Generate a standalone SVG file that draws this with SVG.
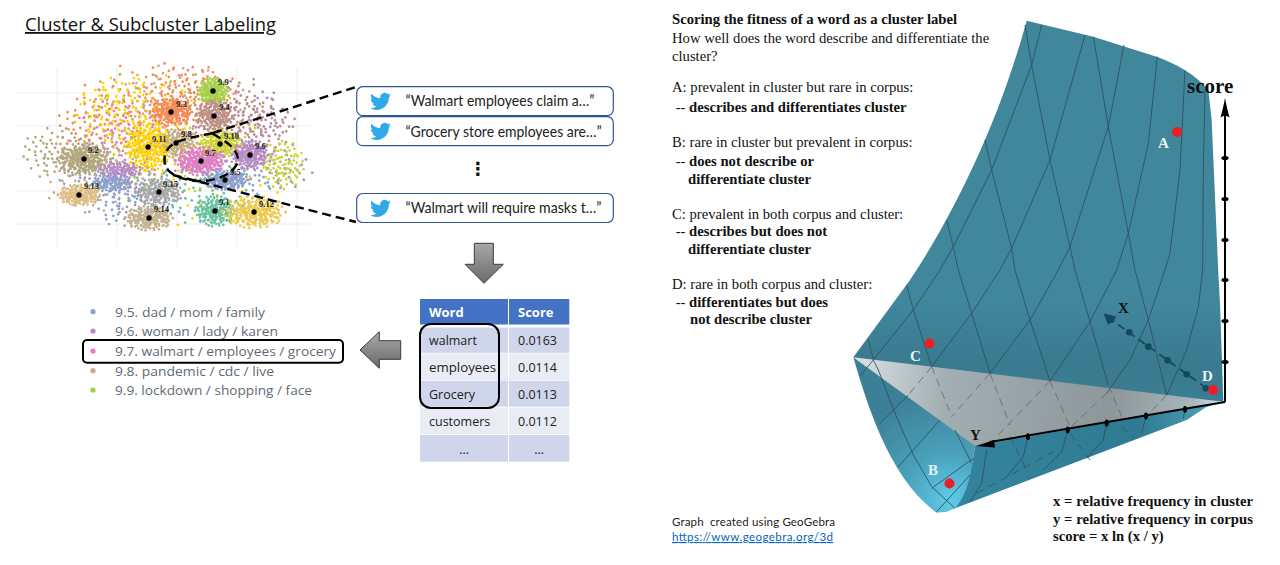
<svg xmlns="http://www.w3.org/2000/svg" xmlns:xlink="http://www.w3.org/1999/xlink" width="1280" height="565" viewBox="0 0 1280 565">
<style>
text{white-space:pre}
.s{font-family:"Liberation Serif","Times New Roman",serif;font-size:14.67px;fill:#111}
.b{font-weight:bold}
.l{font-family:"Open Sans","DejaVu Sans",sans-serif;font-size:13px;fill:#5f6b77}
.t{font-family:"Lato","Open Sans",sans-serif;font-size:15px;fill:#222}
.c{font-family:"Open Sans","DejaVu Sans",sans-serif;font-size:12.5px;fill:#222}
.h{font-family:"Open Sans","DejaVu Sans",sans-serif;font-size:13px;font-weight:bold;fill:#fff}
.n{font-family:"Liberation Serif",serif;font-size:8.5px;font-weight:bold;fill:#222}
.p{font-family:"Liberation Serif",serif;font-size:15px;font-weight:bold;fill:#e8f2f5}
.a{font-family:"Liberation Serif",serif;font-size:15px;font-weight:bold;fill:#111}
.box{fill:#fff;stroke:#2f5597;stroke-width:1.2}
.dash{fill:none;stroke:#000;stroke-width:2.4;stroke-dasharray:9 5}
.g{stroke:#eeeeee;stroke-width:1}
.blob{fill:none;stroke-width:2.7;stroke-linecap:round;vector-effect:non-scaling-stroke}
.sol{fill:none;stroke:#2a4f5f;stroke-width:3;stroke-linejoin:round;opacity:.85}
.hid{fill:none;stroke:#5d6c72;stroke-width:3;stroke-dasharray:24 16;opacity:.85}
.hid2{fill:none;stroke:#2a5a6c;stroke-width:3;stroke-dasharray:24 16;opacity:.85}
.r{fill:#ee1c25}
</style>
<defs>
<path id="blob" class="blob" d="M0 0h.01M1 -2h.01M-2 1h.01M3 1h.01M-1 -3h.01M2 3h.01M-3 -2h.01M4 -1h.01M-4 2h.01M1 4h.01M-2 4h.01M5 2h.01M-5 -1h.01M3 -4h.01M-3 -5h.01M6 -2h.01M-6 1h.01M0 6h.01M2 -6h.01M-1 5.5h.01M4 4.5h.01M-4.5 4h.01M6.5 1h.01M-6.5 -3h.01M5 -5h.01M-5 -5.5h.01M1 -7h.01M-2 7h.01M3 7h.01M7.5 -1h.01M-7.5 0h.01M7 3.5h.01M-7 3h.01M6 -4.5h.01M-3 -7.5h.01M.5 8h.01M-.5 -8h.01M4 -7h.01M8 2h.01M-8 -2h.01M5.5 6h.01M-5.5 6.5h.01M8.5 -3h.01M-8.5 2.5h.01M2 9h.01M-3 9h.01M3 -9h.01M-2 -9h.01M9.5 0h.01M-9.5 -.5h.01M7 6.5h.01M-7 -6.5h.01M7.5 -6h.01M-7 6h.01M1.5 1.5h.01M-1.5 -1h.01M2.5 -1h.01M-2.5 2.5h.01M0 3h.01M.5 -4h.01M-3.5 0h.01M3.5 2.5h.01M-1 1.5h.01M1 -.5h.01M2 1h.01M-4 -3h.01M4.5 -2.5h.01M-2 -2.5h.01M3 -2h.01M-1 3.5h.01M5.7 .3h.01M-5.3 2.9h.01M2.4 5.1h.01M-3.3 5.7h.01M.7 -5.3h.01M-1.8 -5.6h.01M4.3 -4.1h.01M-4.1 -1.2h.01M6.2 3h.01M-6.1 -1.5h.01"/>
<path id="bird" d="M23.95 4.57a10 10 0 01-2.82.77 4.96 4.96 0 002.16-2.72c-.95.55-2 .95-3.12 1.17a4.92 4.92 0 00-8.38 4.48C7.69 8.09 4.07 6.13 1.64 3.16a4.82 4.82 0 00-.67 2.48c0 1.71.87 3.21 2.19 4.1a4.9 4.9 0 01-2.23-.62v.06a4.92 4.92 0 003.95 4.83 5 5 0 01-2.21.08 4.94 4.94 0 004.6 3.42A9.87 9.87 0 010 19.54a14 14 0 007.56 2.21c9.05 0 14-7.5 14-13.98 0-.21 0-.42-.02-.63a9.94 9.94 0 002.46-2.55z" fill="#2fa9e8"/>
<linearGradient id="gd" x1="0" y1="0" x2="0" y2="1"><stop offset="0" stop-color="#a8a8a8"/><stop offset="1" stop-color="#6a6a6a"/></linearGradient>
<linearGradient id="gs" gradientUnits="userSpaceOnUse" x1="0" y1="-748" x2="0" y2="420"><stop offset="0" stop-color="#40879b"/><stop offset=".72" stop-color="#41879c"/><stop offset=".88" stop-color="#3a7a8f"/><stop offset="1" stop-color="#3b7e93"/></linearGradient>
<linearGradient id="gt" gradientUnits="userSpaceOnUse" x1="40" y1="300" x2="1150" y2="400"><stop offset="0" stop-color="#dbe2e4"/><stop offset=".25" stop-color="#a3aeb2"/><stop offset=".7" stop-color="#8d979a"/><stop offset=".92" stop-color="#a9b6ba"/><stop offset="1" stop-color="#dce8ec"/></linearGradient>
<radialGradient id="gl" gradientUnits="userSpaceOnUse" cx="330" cy="690" r="330"><stop offset="0" stop-color="#5fcbe8"/><stop offset=".45" stop-color="#4a9fb9"/><stop offset="1" stop-color="#3c8097"/></radialGradient>
<linearGradient id="gr" gradientUnits="userSpaceOnUse" x1="405" y1="540" x2="1100" y2="420"><stop offset="0" stop-color="#34839c"/><stop offset=".7" stop-color="#2f7a92"/><stop offset="1" stop-color="#4a9db6"/></linearGradient>
</defs>
<rect width="1280" height="565" fill="#fff"/>

<text id="title" x="25" y="31" font-family="Open Sans,DejaVu Sans,sans-serif" font-size="18" fill="#111" text-decoration="underline" textLength="251" lengthAdjust="spacingAndGlyphs">Cluster &amp; Subcluster Labeling</text>

<g id="scatter">
<g class="g"><path d="M57 68V248M117 68V248M177 68V248M237 68V248M297 68V248M15 93H311M15 126H311M15 159H311M15 191H311M15 224H311"/></g>
<g id="scatter-bg">
<use xlink:href="#blob" stroke="#f58a55" transform="translate(155 100) scale(8 4) rotate(20)"/>
<use xlink:href="#blob" stroke="#ffd300" transform="translate(140 115) scale(7 4.5) rotate(70)"/>
<use xlink:href="#blob" stroke="#ffd300" transform="translate(190 170) scale(10 6) rotate(200)"/>
<use xlink:href="#blob" stroke="#b78ac4" transform="translate(125 160) scale(7 3) rotate(120)"/>
<use xlink:href="#blob" stroke="#b78ac4" transform="translate(240 130) scale(6 4) rotate(160)"/>
<use xlink:href="#blob" stroke="#8c9fcf" transform="translate(115 182) scale(6 2.5) rotate(45)"/>
<use xlink:href="#blob" stroke="#8c9fcf" transform="translate(255 170) scale(6 2.5) rotate(45)"/>
<use xlink:href="#blob" stroke="#c4ad84" transform="translate(170 100) scale(8 3.6) rotate(300)"/>
<use xlink:href="#blob" stroke="#bc9088" transform="translate(235 110) scale(5 3.5) rotate(250)"/>
<use xlink:href="#blob" stroke="#cdd22f" transform="translate(165 140) scale(10 6) rotate(90)"/>
<use xlink:href="#blob" stroke="#f58a55" transform="translate(100 125) scale(4.5 3.2) rotate(15)"/>
<use xlink:href="#blob" stroke="#c4ad84" transform="translate(95 175) scale(6 4) rotate(100)"/>
<use xlink:href="#blob" stroke="#de7ec4" transform="translate(140 125) scale(6 3.5) rotate(330)"/>
<use xlink:href="#blob" stroke="#66c2a0" transform="translate(200 190) scale(7 3.5) rotate(240)"/>
<use xlink:href="#blob" stroke="#b3a77c" transform="translate(58 152) scale(3.8 2.6) rotate(30)"/>
<use xlink:href="#blob" stroke="#cdd22f" transform="translate(283 165) scale(2.2 2.6) rotate(10)"/>
<use xlink:href="#blob" stroke="#ffd300" transform="translate(125 110) scale(5 3.5) rotate(210)"/>
<use xlink:href="#blob" stroke="#f58a55" transform="translate(190 90) scale(5 2.6) rotate(110)"/>
<use xlink:href="#blob" stroke="#bc9088" transform="translate(255 125) scale(4 3) rotate(75)"/>
<use xlink:href="#blob" stroke="#8c9fcf" transform="translate(135 205) scale(5 2.4) rotate(300)"/>
</g>
<g id="scatter-clusters">
<use xlink:href="#blob" stroke="#a5d24a" transform="translate(213 91) scale(1.6 1.4)"/><use xlink:href="#blob" stroke="#a5d24a" transform="translate(213 91) scale(1.5 1.4) rotate(137)"/>
<use xlink:href="#blob" stroke="#f58a55" transform="translate(171 112) scale(2.2 1.4)"/><use xlink:href="#blob" stroke="#f58a55" transform="translate(171 112) scale(2.2 1.4) rotate(137)"/>
<use xlink:href="#blob" stroke="#bc9088" transform="translate(214 116) scale(1.9 1.6)"/><use xlink:href="#blob" stroke="#bc9088" transform="translate(214 116) scale(1.9 1.6) rotate(80)"/>
<use xlink:href="#blob" stroke="#c4ad84" transform="translate(176 143) scale(2.2 1.5)"/><use xlink:href="#blob" stroke="#c4ad84" transform="translate(176 143) scale(2.2 1.5) rotate(137)"/>
<use xlink:href="#blob" stroke="#ffd300" transform="translate(148 147) scale(2.5 2.5)"/><use xlink:href="#blob" stroke="#ffd300" transform="translate(148 147) scale(2.5 2.5) rotate(137)"/><use xlink:href="#blob" stroke="#ffd300" transform="translate(148 147) scale(2 2.5) rotate(50)"/>
<use xlink:href="#blob" stroke="#cdd22f" transform="translate(220 144) scale(2.3 1.4)"/><use xlink:href="#blob" stroke="#cdd22f" transform="translate(220 144) scale(2.3 1.4) rotate(137)"/>
<use xlink:href="#blob" stroke="#b3a77c" transform="translate(84 159) scale(2.8 1.7)"/><use xlink:href="#blob" stroke="#b3a77c" transform="translate(84 159) scale(2.8 1.7) rotate(137)"/><use xlink:href="#blob" stroke="#b3a77c" transform="translate(84 159) scale(2 1.4) rotate(60)"/>
<use xlink:href="#blob" stroke="#b78ac4" transform="translate(250 155) scale(1.9 1.5)"/><use xlink:href="#blob" stroke="#b78ac4" transform="translate(250 155) scale(1.9 1.5) rotate(137)"/>
<use xlink:href="#blob" stroke="#de7ec4" transform="translate(201 161) scale(2.7 1.5)"/><use xlink:href="#blob" stroke="#de7ec4" transform="translate(201 161) scale(2.7 1.5) rotate(137)"/><use xlink:href="#blob" stroke="#de7ec4" transform="translate(201 161) scale(2.1 1.3) rotate(40)"/>
<use xlink:href="#blob" stroke="#8c9fcf" transform="translate(225 180) scale(2.5 1)"/><use xlink:href="#blob" stroke="#8c9fcf" transform="translate(225 180) scale(2.3 1) rotate(137)"/>
<use xlink:href="#blob" stroke="#b78ac4" transform="translate(120 170) scale(2.2 .9) rotate(20)"/><use xlink:href="#blob" stroke="#8c9fcf" transform="translate(112 183) scale(2.1 .9) rotate(170)"/>
<use xlink:href="#blob" stroke="#e0bf85" transform="translate(79 195) scale(2.2 1.1)"/><use xlink:href="#blob" stroke="#e0bf85" transform="translate(79 195) scale(2.2 1.1) rotate(137)"/>
<use xlink:href="#blob" stroke="#a8a8a8" transform="translate(159 192) scale(2.5 1.4)"/><use xlink:href="#blob" stroke="#a8a8a8" transform="translate(159 192) scale(2.5 1.4) rotate(137)"/>
<use xlink:href="#blob" stroke="#c5b08c" transform="translate(149 218) scale(2.5 1.3)"/><use xlink:href="#blob" stroke="#c5b08c" transform="translate(149 218) scale(2.5 1.3) rotate(137)"/>
<use xlink:href="#blob" stroke="#66c2a0" transform="translate(215 211) scale(2.1 1.6)"/><use xlink:href="#blob" stroke="#66c2a0" transform="translate(215 211) scale(2.1 1.6) rotate(137)"/>
<use xlink:href="#blob" stroke="#ecc84f" transform="translate(254 212) scale(3.3 1.7)"/><use xlink:href="#blob" stroke="#ecc84f" transform="translate(254 212) scale(3.3 1.7) rotate(137)"/><use xlink:href="#blob" stroke="#ecc84f" transform="translate(254 212) scale(2.5 1.4) rotate(60)"/>
</g>
<g id="scatter-centres" fill="#000">
<circle cx="213" cy="91" r="2.7"/><circle cx="171" cy="112" r="2.7"/><circle cx="214" cy="116" r="2.7"/><circle cx="176" cy="143" r="2.7"/><circle cx="220" cy="144" r="2.7"/><circle cx="148" cy="147" r="2.7"/><circle cx="84" cy="159" r="2.7"/><circle cx="250" cy="155" r="2.7"/><circle cx="201" cy="161" r="2.7"/><circle cx="225" cy="180" r="2.7"/><circle cx="79" cy="195" r="2.7"/><circle cx="159" cy="192" r="2.7"/><circle cx="149" cy="218" r="2.7"/><circle cx="215" cy="211" r="2.7"/><circle cx="254" cy="212" r="2.7"/>
</g>
<g id="scatter-labels">
<text class="n" x="218" y="85">9.9</text><text class="n" x="176" y="107">9.3</text><text class="n" x="219" y="110">9.4</text><text class="n" x="181" y="137">9.8</text><text class="n" x="224" y="139">9.10</text><text class="n" x="152" y="142">9.11</text><text class="n" x="88" y="153">9.2</text><text class="n" x="255" y="149">9.6</text><text class="n" x="205" y="156">9.7</text><text class="n" x="230" y="175">9.5</text><text class="n" x="84" y="189">9.13</text><text class="n" x="163" y="187">9.15</text><text class="n" x="154" y="212">9.14</text><text class="n" x="219" y="205">9.1</text><text class="n" x="259" y="207">9.12</text>
</g>
</g>

<g id="connectors">
<path class="dash" d="M213 133 C200 136 190 137 177 142 C166 147 163 155 165 165 C168 175 185 181 200 181 C218 181 236 173 238 160 C238 150 228 142 213 134"/>
<path class="dash" d="M213 133L356 87"/>
<path class="dash" d="M173 175L356 222"/>
</g>

<g id="tweet-1"><rect class="box" x="356.7" y="86.7" width="256.6" height="29" rx="6"/><use xlink:href="#bird" transform="translate(370 91) scale(.875)"/><text class="t" x="405.5" y="106" textLength="189" lengthAdjust="spacingAndGlyphs">“Walmart employees claim a…”</text></g>
<g id="tweet-2"><rect class="box" x="356.7" y="116.7" width="256.6" height="29" rx="6"/><use xlink:href="#bird" transform="translate(370 121) scale(.875)"/><text class="t" x="405.5" y="137" textLength="196" lengthAdjust="spacingAndGlyphs">“Grocery store employees are…”</text></g>
<text id="ellipsis" x="478" y="175" text-anchor="middle" font-family="DejaVu Sans,sans-serif" font-size="18" font-weight="bold" fill="#111">⋮</text>
<g id="tweet-3"><rect class="box" x="356.7" y="193.5" width="256.6" height="29" rx="6"/><use xlink:href="#bird" transform="translate(370 198) scale(.875)"/><text class="t" x="405.5" y="213" textLength="196" lengthAdjust="spacingAndGlyphs">“Walmart will require masks t…”</text></g>

<polygon id="arrow-down" points="474.3,243.3 493.3,243.3 493.3,264.3 503.3,264.3 484,283.3 465,264.3 474.3,264.3" fill="url(#gd)" stroke="#3a3a3a" stroke-width="1"/>
<polygon id="arrow-left" points="360,350 379.3,331.7 379.3,340.7 400.7,340.7 400.7,359.3 379.3,359.3 379.3,368.3" fill="url(#gd)" stroke="#3a3a3a" stroke-width="1"/>

<g id="legend">
<circle cx="93" cy="311.7" r="2.6" fill="#8c9fcf"/><text class="l" x="115" y="316.5" textLength="150" lengthAdjust="spacingAndGlyphs">9.5. dad / mom / family</text>
<circle cx="93" cy="331" r="2.6" fill="#b78ac4"/><text class="l" x="115" y="336" textLength="163" lengthAdjust="spacingAndGlyphs">9.6. woman / lady / karen</text>
<circle cx="93" cy="351" r="2.6" fill="#e87ac0"/><text class="l" x="115" y="356" textLength="221" lengthAdjust="spacingAndGlyphs">9.7. walmart / employees / grocery</text>
<circle cx="93" cy="370.7" r="2.6" fill="#c4ad84"/><text class="l" x="115" y="375.5" textLength="159" lengthAdjust="spacingAndGlyphs">9.8. pandemic / cdc / live</text>
<circle cx="93" cy="390" r="2.6" fill="#9ecf4a"/><text class="l" x="115" y="395" textLength="197" lengthAdjust="spacingAndGlyphs">9.9. lockdown / shopping / face</text>
<rect x="83" y="340" width="260" height="22.7" rx="4" fill="none" stroke="#000" stroke-width="2"/>
</g>

<g id="table">
<rect x="420" y="299" width="88" height="25.5" fill="#4472c4"/><rect x="509" y="299" width="60.3" height="25.5" fill="#4472c4"/>
<rect x="420" y="327.5" width="88" height="25.3" fill="#cfd5ea"/><rect x="509" y="327.5" width="60.3" height="25.3" fill="#cfd5ea"/>
<rect x="420" y="353.5" width="88" height="26.5" fill="#e9ebf5"/><rect x="509" y="353.5" width="60.3" height="26.5" fill="#e9ebf5"/>
<rect x="420" y="380.7" width="88" height="26" fill="#cfd5ea"/><rect x="509" y="380.7" width="60.3" height="26" fill="#cfd5ea"/>
<rect x="420" y="407.7" width="88" height="26.3" fill="#e9ebf5"/><rect x="509" y="407.7" width="60.3" height="26.3" fill="#e9ebf5"/>
<rect x="420" y="435" width="88" height="26.7" fill="#cfd5ea"/><rect x="509" y="435" width="60.3" height="26.7" fill="#cfd5ea"/>
<text class="h" x="429" y="317">Word</text><text class="h" x="518" y="317">Score</text>
<text class="c" x="429" y="345">walmart</text><text class="c" x="518" y="345">0.0163</text>
<text class="c" x="429" y="372" textLength="67" lengthAdjust="spacingAndGlyphs">employees</text><text class="c" x="518" y="372">0.0114</text>
<text class="c" x="429" y="399">Grocery</text><text class="c" x="518" y="399">0.0113</text>
<text class="c" x="429" y="426">customers</text><text class="c" x="518" y="426">0.0112</text>
<text class="c" x="464" y="454" text-anchor="middle">…</text><text class="c" x="539" y="454" text-anchor="middle">…</text>
<rect x="420" y="324" width="79" height="84" rx="11" fill="none" stroke="#000" stroke-width="2"/>
</g>

<g id="explanation">
<text class="s b" x="672" y="24">Scoring the fitness of a word as a cluster label</text>
<text class="s" x="672" y="43">How well does the word describe and differentiate the</text>
<text class="s" x="672" y="61">cluster?</text>
<text class="s" x="672" y="92">A: prevalent in cluster but rare in corpus:</text>
<text class="s" x="672" y="112"> -- <tspan class="b">describes and differentiates cluster</tspan></text>
<text class="s" x="672" y="147">B: rare in cluster but prevalent in corpus:</text>
<text class="s" x="672" y="166"> -- <tspan class="b">does not describe or</tspan></text>
<text class="s b" x="688" y="184">differentiate cluster</text>
<text class="s" x="672" y="219">C: prevalent in both corpus and cluster:</text>
<text class="s" x="672" y="236"> -- <tspan class="b">describes but does not</tspan></text>
<text class="s b" x="688" y="254">differentiate cluster</text>
<text class="s" x="672" y="289">D: rare in both corpus and cluster:</text>
<text class="s" x="672" y="307"> -- <tspan class="b">differentiates but does</tspan></text>
<text class="s b" x="690" y="324">not describe cluster</text>
</g>
<g id="credit">
<text x="672" y="526" font-family="Lato,Open Sans,sans-serif" font-size="11.5" fill="#222" textLength="163">Graph  created using GeoGebra</text>
<text x="672" y="541" font-family="Lato,Open Sans,sans-serif" font-size="11.5" fill="#0563c1" text-decoration="underline" textLength="161">https://www.geogebra.org/3d</text>
</g>

<g id="surface" transform="translate(840 270) scale(.33333)">
<path fill="url(#gs)" d="M560 -748 L760 -700 L950 -640 C1000 -622 1065 -590 1105 -540 L1115 -450 L1135 10 L1140 100 L1150 395 L1100 410 L400 530 L40 262 L210 30 C330 -150 470 -420 560 -748Z"/>
<path fill="url(#gr)" d="M405 528 L1150 395 L1100 410 L1040 450 L345 715 C380 670 395 600 405 528Z"/>
<path fill="url(#gl)" d="M40 262 L405 528 C395 600 385 670 345 715 L320 725 L290 728 C150 630 80 400 40 262Z"/>
<polygon fill="url(#gt)" points="40,262 1150,395 405,528"/>
<g id="grid-solid">
<path class="sol" d="M555 -735L575 -615L630 -330L690 -70L705 0L750 155L805 345"/>
<path class="sol" d="M760 -700L805 -430L865 -110L885 0L925 150L980 375"/>
<path class="sol" d="M435 -390L455 -300L515 -65L525 0L570 150L630 333"/>
<path class="sol" d="M320 -150L340 -70L355 0L395 130L450 310"/>
<path class="sol" d="M200 45L220 120L275 290"/>
<path class="sol" d="M85 210L100 270L115 300L165 430L220 555L275 650L345 715"/>
<path class="sol" d="M605 -735L575 -615L455 -300L340 -70L300 0L220 120L100 270L60 318"/>
<path class="sol" d="M735 -705L630 -330L515 -65L480 0L395 130L275 290"/>
<path class="sol" d="M852 -675L805 -430L690 -70L655 0L570 150L450 310"/>
<path class="sol" d="M952 -640L925 -380L865 -110L830 0L750 155L630 333"/>
<path class="sol" d="M1035 -600L1020 -300L990 -50L965 30L925 150L870 270L800 370"/>
<path class="sol" d="M1095 -540L1090 -300L1088 0L1075 110L1040 240L980 375"/>
<path class="sol" d="M205 375L120 460"/>
<path class="sol" d="M300 450L175 590"/>
<path class="sol" d="M345 480L395 580"/>
<path class="sol" d="M400 565L275 655"/>
<path class="sol" d="M390 615L290 725"/>
<path class="sol" d="M440 540L425 640L390 695"/>
<path class="sol" d="M565 495L550 560L500 620"/>
<path class="sol" d="M683 480L665 545L610 600"/>
<path class="sol" d="M800 460L790 510L740 565"/>
<path class="sol" d="M918 438L905 490"/>
<path class="sol" d="M1035 418L1030 445"/>
</g>
<g id="grid-hidden">
<path class="hid" d="M805 345L845 440"/>
<path class="hid" d="M630 333L690 470"/>
<path class="hid" d="M450 310L510 465"/>
<path class="hid" d="M275 290L335 440"/>
<path class="hid" d="M275 290L205 375"/>
<path class="hid" d="M450 310L335 440"/>
<path class="hid" d="M630 333L470 500"/>
<path class="hid" d="M800 370L683 480"/>
<path class="hid" d="M980 375L918 440"/>
<path class="hid2" d="M510 500L560 600"/>
<path class="hid2" d="M690 490L750 570"/>
<path class="hid2" d="M410 670L650 540"/>
<path class="hid2" d="M845 470L880 500"/>
</g>
</g>

<g id="axis-x" transform="translate(840 270) scale(.33333)" fill="#124a5e">
<path d="M1100 355L815 150" fill="none" stroke="#124a5e" stroke-width="5" stroke-dasharray="24 14"/>
<path d="M790 130L830 140L805 165Z"/>
<circle cx="815" cy="150" r="9"/><circle cx="868" cy="187" r="10"/><circle cx="925" cy="230" r="10"/><circle cx="983" cy="271" r="10"/><circle cx="1040" cy="313" r="10"/><circle cx="1097" cy="355" r="10"/>
</g>
<g id="axis-score" fill="#000">
<path d="M1225 402V110" stroke="#000" stroke-width="2" fill="none"/>
<path d="M1225 98C1226.500 106 1228 112 1229.500 117.500Q1225 114 1220.500 117.500C1222 112 1223.500 106 1225 98Z"/>
<ellipse cx="1225" cy="158" rx="3.6" ry="2"/><ellipse cx="1225" cy="199" rx="3.6" ry="2"/><ellipse cx="1225" cy="240" rx="3.6" ry="2"/><ellipse cx="1225" cy="280" rx="3.6" ry="2"/><ellipse cx="1225" cy="321" rx="3.6" ry="2"/><ellipse cx="1225" cy="362" rx="3.6" ry="2"/>
</g>
<g id="axis-y" fill="#000">
<path d="M1225 402L990 442" stroke="#000" stroke-width="2" fill="none"/>
<path d="M976 446L994 440L995 447.5Z"/>
<ellipse cx="1028" cy="436.7" rx="2" ry="3.4"/><ellipse cx="1067.7" cy="430" rx="2" ry="3.4"/><ellipse cx="1106.7" cy="423" rx="2" ry="3.4"/><ellipse cx="1146" cy="416" rx="2" ry="3.4"/><ellipse cx="1185" cy="409.3" rx="2" ry="3.4"/>
</g>
<g id="points">
<circle class="r" cx="1177" cy="132" r="5"/><circle class="r" cx="929.5" cy="343.500" r="5"/><circle class="r" cx="949.500" cy="483.500" r="5"/><circle class="r" cx="1213" cy="390" r="5"/>
<text class="p" x="1158" y="148">A</text><text class="p" x="910" y="361">C</text><text class="p" x="928" y="475">B</text><text class="p" x="1202" y="381">D</text>
<text class="a" x="1118" y="313">X</text><text class="a" x="970" y="440">Y</text>
<text x="1187" y="93" font-family="Liberation Serif,serif" font-size="21" font-weight="bold" fill="#111">score</text>
</g>
<g id="formula">
<text class="s b" x="1053" y="506" textLength="200">x = relative frequency in cluster</text>
<text class="s b" x="1053" y="524" textLength="200">y = relative frequency in corpus</text>
<text class="s b" x="1053" y="541">score = x ln (x / y)</text>
</g>
</svg>
